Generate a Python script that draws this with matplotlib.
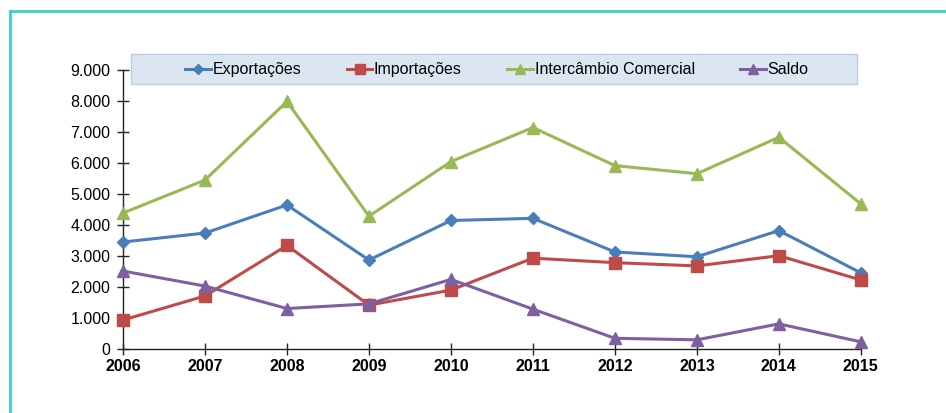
import matplotlib.pyplot as plt
from matplotlib.lines import Line2D
from matplotlib.patches import Rectangle
from matplotlib.ticker import FuncFormatter

plt.rcParams['font.family'] = ['Liberation Sans', 'DejaVu Sans']

anos = [2006, 2007, 2008, 2009, 2010, 2011, 2012, 2013, 2014, 2015]
exportacoes = [3450, 3740, 4645, 2870, 4145, 4215, 3130, 2975, 3820, 2455]
importacoes = [935, 1710, 3340, 1415, 1900, 2930, 2785, 2680, 3010, 2225]
intercambio = [4385, 5450, 7985, 4285, 6045, 7145, 5915, 5655, 6830, 4680]
saldo = [2515, 2030, 1305, 1455, 2245, 1285, 345, 295, 810, 230]

fig = plt.figure(figsize=(9.46, 4.13), dpi=100)
ax = fig.add_axes([0.130, 0.155, 0.780, 0.6755])

# series: (values, label, colour, marker, size)
series = [
    (exportacoes, 'Exportações', '#4a7ebb', 'D', 6.5),
    (importacoes, 'Importações', '#be4b48', 's', 8),
    (intercambio, 'Intercâmbio Comercial', '#98b954', '^', 8),
    (saldo, 'Saldo', '#7d60a0', '^', 8),
]
for vals, lab, col, mk, ms in series:
    ax.plot(anos, vals, color=col, lw=2.2, marker=mk, markersize=ms,
            label=lab, clip_on=False, zorder=3)

ax.set_xlim(2006, 2015)
ax.set_ylim(0, 9000)
ax.set_xticks(anos)
ax.set_yticks(range(0, 9001, 1000))
ax.yaxis.set_major_formatter(FuncFormatter(lambda v, p: f'{int(v):,}'.replace(',', '.')))
for s in ['top', 'right']:
    ax.spines[s].set_visible(False)
for s in ['left', 'bottom']:
    ax.spines[s].set_color('#222222')
    ax.spines[s].set_linewidth(1.0)
ax.tick_params(direction='inout', length=8, width=1.0, colors='#222222', labelsize=11.5)
ax.tick_params(axis='y', pad=5, labelcolor='black')
ax.tick_params(axis='x', pad=3, labelcolor='black')
for t in ax.get_xticklabels():
    t.set_fontweight('bold')

# legend box
x0, y0, w, h = 131 / 946, 1 - 84 / 413, 726 / 946, 30 / 413
fig.add_artist(Rectangle((x0, y0), w, h, transform=fig.transFigure,
                         facecolor='#dce6f2', edgecolor='#b9cde5', lw=1.0, zorder=4))
leg = fig.legend(loc='center', bbox_to_anchor=(x0 + w / 2 + 0.003, y0 + h / 2 - 0.002),
                 ncol=4, frameon=False, fontsize=11.5, markerscale=0.85,
                 handlelength=1.6, handletextpad=0.1, columnspacing=2.85, borderaxespad=0)
leg.set_zorder(5)

# teal frame
fig.add_artist(Line2D([10 / 946, 1], [1 - 11 / 413, 1 - 11 / 413], color='#33d6c8', lw=2.0,
                      transform=fig.transFigure))
fig.add_artist(Line2D([10 / 946, 10 / 946], [0, 1 - 11 / 413], color='#33d6c8', lw=2.0,
                      transform=fig.transFigure))

fig.savefig('out.png', dpi=100)
